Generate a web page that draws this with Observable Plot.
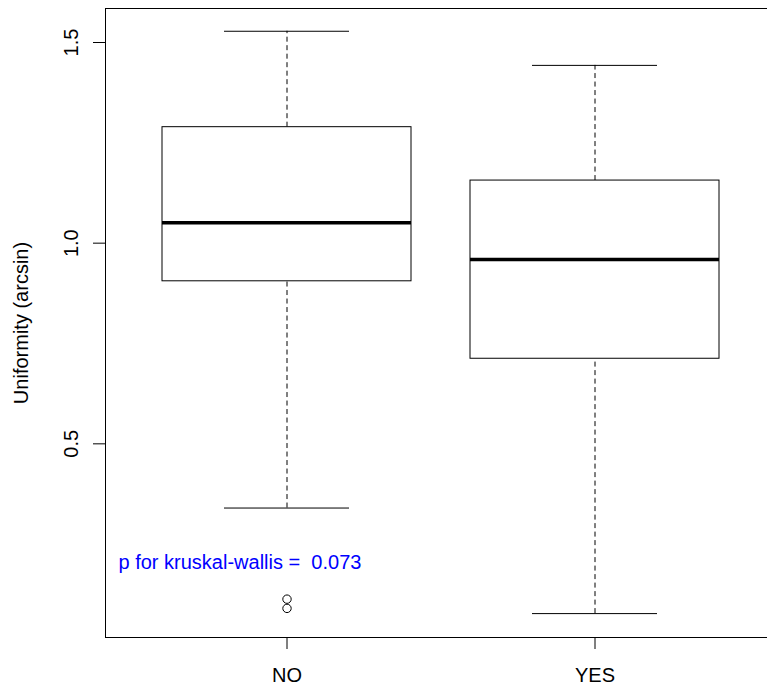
<!DOCTYPE html>
<html>
<head>
<meta charset="utf-8">
<script src="https://cdn.jsdelivr.net/npm/d3@7"></script>
<script src="https://cdn.jsdelivr.net/npm/@observablehq/plot@0.6"></script>
<style>
  html, body { margin: 0; padding: 0; background: white; overflow: hidden; }
  #chart svg { overflow: hidden; }
</style>
</head>
<body>
<div id="chart"></div>
<script>
// ---- data ----
const categories = ["NO", "YES"];
const whiskerHigh = [1.528, 1.443];
const q3 = [1.289, 1.156];
const medians = [1.051, 0.959];
const q1 = [0.905, 0.712];
const whiskerLow = [0.340, 0.077];
const outlierGroup = ["NO", "NO"];
const outlierValues = [0.113, 0.090];
const yTicks = [0.5, 1.0, 1.5];
const yTickLabels = ["0.5", "1.0", "1.5"];
const yTitle = "Uniformity (arcsin)";
const annotationText = "p for kruskal-wallis = \u00a00.073";
const annotationY = [0.2];

// ---- build tables ----
const boxes = categories.map((c, i) => ({
  group: c, hi: whiskerHigh[i], q3: q3[i], med: medians[i], q1: q1[i], lo: whiskerLow[i]
}));
const outliers = outlierGroup.map((g, i) => ({group: g, value: outlierValues[i]}));
const ticks = yTicks.map((v, i) => ({v, label: yTickLabels[i]}));

const font = "'Liberation Sans', Arial, sans-serif";

const chart = Plot.plot({
  width: 767,
  height: 685,
  marginLeft: 105,
  marginRight: -9,
  marginTop: 8,
  marginBottom: 48,
  style: {fontFamily: font, fontSize: "20px", background: "white", color: "black"},
  x: {type: "band", domain: categories, range: [105, 776], paddingInner: 0.193, paddingOuter: 0.183, label: null},
  y: {domain: [0, 1.5], range: [644, 42], label: null},
  marks: [
    Plot.frame({stroke: "black", strokeWidth: 1}),
    // whiskers (dashed)
    Plot.ruleX(boxes, {x: "group", y1: "q3", y2: "hi", stroke: "black", strokeDasharray: "5,3.5"}),
    Plot.ruleX(boxes, {x: "group", y1: "lo", y2: "q1", stroke: "black", strokeDasharray: "5,3.5"}),
    // whisker caps
    Plot.tickY(boxes, {x: "group", y: "hi", stroke: "black", insetLeft: 62, insetRight: 62}),
    Plot.tickY(boxes, {x: "group", y: "lo", stroke: "black", insetLeft: 62, insetRight: 62}),
    // boxes
    Plot.barY(boxes, {x: "group", y1: "q1", y2: "q3", fill: "white", stroke: "black", strokeWidth: 1}),
    // medians
    Plot.tickY(boxes, {x: "group", y: "med", stroke: "black", strokeWidth: 3.5}),
    // outliers
    Plot.dot(outliers, {x: "group", y: "value", r: 4.2, stroke: "black", fill: "none", strokeWidth: 1}),
    // annotation
    Plot.text(annotationY, {y: d => d, text: () => annotationText, frameAnchor: "left", textAnchor: "start", dx: 13, dy: -2, fill: "#0000ff", fontSize: 20, lineAnchor: "middle"}),
    // y axis ticks
    Plot.axisY({ticks: yTicks, tickSize: 12, tickFormat: () => "", stroke: "black", label: null}),
    Plot.text(ticks, {y: "v", text: "label", frameAnchor: "left", dx: -34.3, rotate: -90, textAnchor: "middle", lineAnchor: "middle", fontSize: 20, fill: "black"}),
    // y title
    Plot.text([yTitle], {text: d => d, frameAnchor: "left", dx: -83.7, rotate: -90, textAnchor: "middle", lineAnchor: "middle", fontSize: 20, fill: "black"}),
    // x axis
    Plot.axisX({tickSize: 12, tickPadding: 18, fontSize: 20, stroke: "black", label: null, fill: "black"})
  ]
});
document.getElementById("chart").appendChild(chart);
</script>
</body>
</html>
